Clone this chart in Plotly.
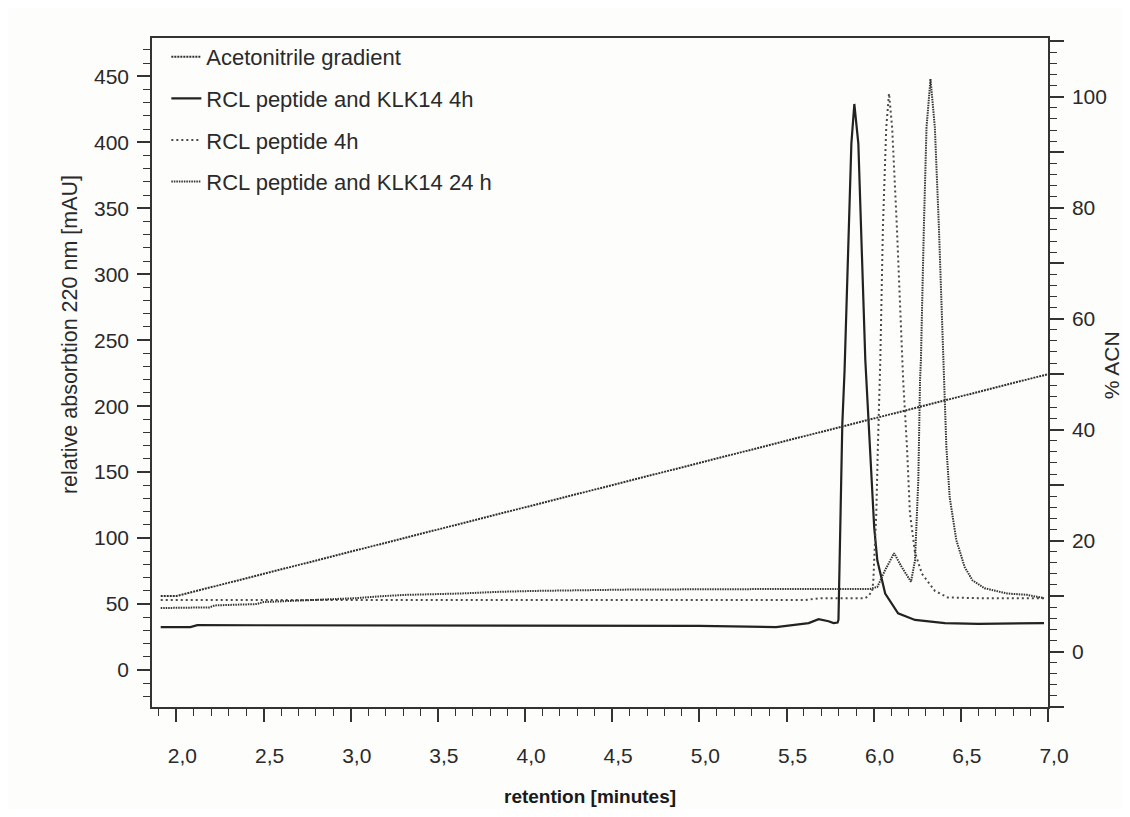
import plotly.graph_objects as go

# ---- data ----
# Acetonitrile gradient, % ACN (right axis)
t_grad = [1.91, 2.0, 7.0]
acn_grad = [10, 10, 50]

# RCL peptide and KLK14 4h (solid), mAU
t_klk4 = [1.91, 2.08, 2.12, 3.0, 4.0, 5.0, 5.44, 5.627, 5.684, 5.741, 5.770, 5.793,
          5.798, 5.803, 5.820, 5.833, 5.872, 5.889, 5.912, 5.952, 5.958, 6.003, 6.021,
          6.066, 6.140, 6.237, 6.408, 6.6, 6.977]
mau_klk4 = [32.6, 32.6, 34, 34, 34, 33.5, 32.6, 35.6, 38.6, 37, 35.6, 36,
            38, 68, 186, 227, 399, 429, 399, 235, 220, 108, 83,
            58, 43, 38, 35.6, 35, 35.6]

# RCL peptide 4h (dotted), mAU
t_pep4 = [1.91, 3.0, 4.0, 5.0, 5.60, 5.70, 5.95, 5.969, 5.992, 5.998, 6.015, 6.024,
          6.034, 6.038, 6.053, 6.072, 6.088, 6.106, 6.133, 6.161, 6.169, 6.191, 6.208,
          6.237, 6.277, 6.351, 6.425, 6.6, 6.977]
mau_pep4 = [53, 53, 53, 53, 53, 54.5, 54.5, 56, 60, 68, 119, 169,
            220, 235, 336, 411, 437, 411, 336, 235, 220, 169, 119,
            89, 73, 60, 55, 54.5, 54.5]

# RCL peptide and KLK14 24 h (fine dotted), mAU
t_klk24 = [1.91, 2.19, 2.22, 2.46, 2.50, 3.03, 3.18, 3.32, 3.63, 3.85, 4.07, 4.6,
           5.44, 5.98, 5.992, 6.021, 6.066, 6.117, 6.161, 6.214, 6.237, 6.256, 6.266,
           6.271, 6.288, 6.303, 6.326, 6.351, 6.374, 6.398, 6.404, 6.417, 6.436, 6.474,
           6.522, 6.567, 6.636, 6.766, 6.880, 6.977]
mau_klk24 = [47, 47.5, 49, 50, 51.5, 54.5, 56, 57, 58, 59.3, 60, 61,
             61.4, 61.4, 62, 63, 75.8, 88.6, 78, 66.9, 83, 144, 220,
             235, 336, 411, 448, 411, 336, 235, 220, 169, 131, 98.5,
             78, 68, 62, 58, 57, 54.5]

# tick labels
x_ticks = [2.0, 2.5, 3.0, 3.5, 4.0, 4.5, 5.0, 5.5, 6.0, 6.5, 7.0]
x_ticktext = ["2,0", "2,5", "3,0", "3,5", "4,0", "4,5", "5,0", "5,5", "6,0", "6,5", "7,0"]
y_ticks = [0, 50, 100, 150, 200, 250, 300, 350, 400, 450]
y2_ticks = [-10, 0, 10, 20, 30, 40, 50, 60, 70, 80, 90, 100, 110]
y2_ticktext = ["", "0", "", "20", "", "40", "", "60", "", "80", "", "100", ""]

FONT = "Liberation Sans, Arial, sans-serif"
INK = "#2a2a2a"
BG = "#fdfdfb"

fig = go.Figure()
fig.add_trace(go.Scatter(x=t_grad, y=acn_grad, yaxis="y2", mode="lines",
                         name="Acetonitrile gradient", legendgroup="a",
                         line=dict(color="#303030", width=2, dash="2px,1px")))
fig.add_trace(go.Scatter(x=t_klk4, y=mau_klk4, mode="lines",
                         name="RCL peptide and KLK14 4h", legendgroup="b",
                         line=dict(color="#222222", width=2.2)))
fig.add_trace(go.Scatter(x=t_pep4, y=mau_pep4, mode="lines",
                         name="RCL peptide 4h", legendgroup="c",
                         line=dict(color="#4a4a4a", width=2, dash="2px,3px")))
fig.add_trace(go.Scatter(x=t_klk24, y=mau_klk24, mode="lines",
                         name="RCL peptide and KLK14 24 h", legendgroup="d",
                         line=dict(color="#333333", width=2, dash="1.5px,1px")))

axis_common = dict(showgrid=False, zeroline=False, showline=True, automargin=False,
                   linecolor="#333333", linewidth=1.5, ticks="outside",
                   tickcolor="#333333", tickwidth=1.5,
                   tickfont=dict(family=FONT, size=21, color=INK))

fig.update_layout(
    width=1114, height=801,
    margin=dict(l=144, r=74, t=30, b=102),
    paper_bgcolor=BG, plot_bgcolor=BG,
    font=dict(family=FONT, color=INK),
    showlegend=True,
    legend=dict(x=0.016, y=1.003, xanchor="left", yanchor="top",
                bgcolor="rgba(0,0,0,0)", traceorder="grouped", tracegroupgap=10,
                font=dict(family=FONT, size=22, color=INK)),
    xaxis=dict(range=[1.86, 7.0], tickvals=x_ticks, ticktext=x_ticktext,
               ticklen=13, mirror=True, ticklabelstandoff=16, ticklabelshift=6,
               minor=dict(dtick=0.1, tick0=0, ticks="outside", ticklen=7,
                          tickcolor="#333333", tickwidth=1.3),
               **axis_common),
    yaxis=dict(range=[-28, 479], tickvals=y_ticks, ticklen=13, ticklabelstandoff=4,
               minor=dict(dtick=10, tick0=0, ticks="outside", ticklen=7,
                          tickcolor="#333333", tickwidth=1.3),
               **axis_common),
    yaxis2=dict(range=[-10, 110.6], overlaying="y", side="right",
                tickvals=y2_ticks, ticktext=y2_ticktext, ticklen=14, ticklabelstandoff=4,
                minor=dict(dtick=2, tick0=0, ticks="outside", ticklen=7,
                           tickcolor="#333333", tickwidth=1.3),
                **axis_common),
    annotations=[
        dict(text="relative absorbtion 220 nm [mAU]", xref="paper", yref="paper",
             x=-0.0915, y=0.556, xanchor="center", yanchor="middle",
             textangle=-90, showarrow=False,
             font=dict(family=FONT, size=21.5, color=INK)),
        dict(text="% ACN", xref="paper", yref="paper",
             x=1.0703, y=0.511, xanchor="center", yanchor="middle",
             textangle=-90, showarrow=False,
             font=dict(family=FONT, size=21, color=INK)),
        dict(text="<b>retention [minutes]</b>", xref="paper", yref="paper",
             x=0.489, y=-0.1345, xanchor="center", yanchor="middle", showarrow=False,
             font=dict(family=FONT, size=19, color="#1a1a1a")),
    ],
)

fig.write_html("out.html")
